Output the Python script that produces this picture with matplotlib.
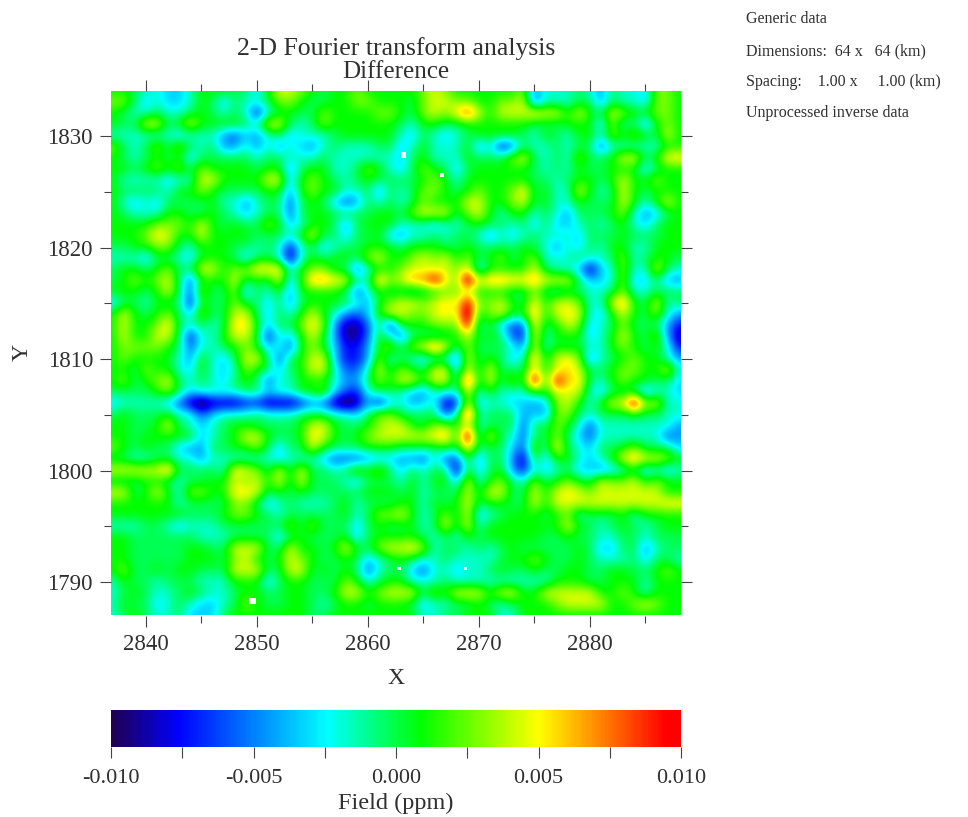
import matplotlib
matplotlib.use('Agg')
import matplotlib.pyplot as plt
import numpy as np
from matplotlib.colors import LinearSegmentedColormap

# Field values, one hex code per grid node
# codes index into level_ppm. rows run from y=1834 down to y=1787, columns x=2837..2888
# node levels overshoot a bit because bicubic resampling flattens the peaks
level_ppm = [-0.0120, -0.0092, -0.0075, -0.0058, -0.0044, -0.0033, -0.0017, -0.0002,
             0.0009, 0.0028, 0.0044, 0.0056, 0.0070, 0.0088, 0.0105, 0.0125]

x_nodes = list(range(2837, 2889))
y_nodes = list(range(1834, 1786, -1))

field_rows = [
    "8 8 7 6 6 5 5 6 8 8 8 7 7 5 8 a a 9 8 7 8 8 9 8 8 8  8 8 9 a 9 8 8 8 8 8 8 9 4 6 6 6 7 6 4 7 6 6 5 9 9 8",
    "9 9 7 5 6 5 5 6 8 7 5 7 6 6 7 9 9 8 7 7 8 8 9 9 8 8  8 7 9 a a 9 9 8 8 9 9 a 3 6 6 6 7 7 4 7 6 6 5 9 9 8",
    "8 7 6 6 7 6 6 7 8 7 6 7 6 2 6 7 8 7 7 9 8 8 8 8 9 9  8 7 9 a 9 b d a 8 a a a b a a 8 a 8 7 a 9 8 8 9 9 8",
    "8 7 7 a a 7 8 a 8 8 8 8 7 6 a a 7 6 7 9 8 8 8 8 8 8  7 6 8 8 7 7 8 8 8 8 8 8 7 7 7 8 8 8 5 9 6 7 4 8 9 8",
    "6 6 6 6 6 6 5 6 6 6 4 3 5 4 6 7 5 6 6 6 7 8 8 8 8 8  6 5 7 6 5 6 7 8 8 8 8 7 6 8 7 6 8 8 6 9 8 9 8 7 a 8",
    "9 7 6 7 9 7 9 7 6 7 4 4 6 4 6 4 6 5 4 6 7 6 6 6 7 7  5 6 8 6 6 6 8 4 6 2 3 7 6 6 7 6 7 7 3 6 6 6 6 6 8 8",
    "8 7 6 7 8 7 8 5 7 7 7 7 7 6 7 7 6 6 6 7 6 6 6 6 6 6  5 7 8 6 6 6 8 7 7 7 9 a 7 6 7 6 9 7 7 8 a a 7 8 b b",
    "8 8 7 8 9 8 9 7 9 8 8 8 8 7 8 8 4 7 8 8 6 6 7 9 8 6  5 7 9 8 7 5 7 8 8 8 8 8 7 6 7 6 8 7 7 8 8 8 5 7 8 8",
    "8 6 6 6 6 5 6 6 a a 8 8 8 8 a a 5 8 9 8 7 6 7 8 7 7  7 7 8 9 8 6 8 8 8 8 8 8 7 7 6 7 8 8 7 8 a 8 8 9 8 8",
    "8 7 7 7 7 6 8 8 9 8 7 7 7 7 8 8 4 8 9 8 8 6 6 7 4 7  6 7 9 9 8 7 8 9 8 8 9 b 7 8 6 6 a 8 6 7 a 8 7 8 8 8",
    "8 6 5 6 5 7 7 7 7 8 6 6 4 6 7 7 3 7 8 7 5 3 4 7 6 7  6 7 9 8 8 8 a a 8 8 9 a 7 8 6 6 8 7 7 7 a 8 6 8 a 8",
    "8 7 6 6 6 8 8 7 7 8 7 6 5 6 7 7 3 7 8 8 7 7 7 7 8 8  7 9 a a a 7 9 a 8 6 8 8 6 7 6 4 7 7 7 8 9 6 4 5 7 8",
    "8 8 8 8 9 9 9 8 a 8 7 8 7 7 9 8 5 6 8 8 7 4 7 8 8 8  6 6 6 5 6 6 7 8 7 7 6 7 5 7 5 5 6 7 6 7 8 6 5 7 8 8",
    "8 8 8 9 b a 8 8 a 8 8 8 8 7 7 7 6 8 a 7 7 5 7 7 8 5  4 6 6 7 6 7 7 6 4 6 5 6 7 6 6 6 5 7 7 7 8 7 7 7 8 8",
    "7 7 8 8 9 9 7 6 8 8 8 7 7 6 7 6 2 6 7 5 6 7 7 8 8 8  7 8 8 8 7 7 8 7 7 7 7 8 7 6 4 6 5 7 6 8 8 6 6 8 8 8",
    "6 6 6 5 7 7 6 5 8 8 8 7 5 7 7 6 1 6 8 7 8 8 7 9 a 8  8 9 a 9 a 8 9 7 8 9 7 8 9 6 6 6 7 6 6 7 9 6 7 8 8 7",
    "7 8 8 7 8 9 7 7 a a 8 9 9 b b b 6 8 9 9 7 7 3 6 8 8  9 a a a a 9 b 5 8 8 8 8 a 7 6 6 5 1 5 6 9 6 6 a 7 6",
    "7 8 9 8 9 a 7 3 8 8 8 a 7 8 7 a 5 8 c c b a 7 6 c 9  a c c e b 9 f a c c b b c a a a 7 5 5 6 9 5 5 7 4 4",
    "8 8 8 7 8 a 7 3 9 7 7 9 5 7 6 8 4 8 8 8 8 7 3 6 8 7  7 6 7 8 9 9 a 8 8 8 7 7 9 7 6 7 7 6 6 7 9 6 6 7 7 7",
    "5 7 7 6 8 7 7 2 8 7 7 9 7 7 5 7 4 7 8 8 8 7 6 4 8 9  a a 9 a b a e 9 9 a 8 7 b 8 a a 9 6 6 a c 8 7 a 6 7",
    "8 a 8 7 8 9 7 5 9 7 7 a a 7 5 7 6 8 a 8 6 4 3 5 8 a  a 9 9 a b a f 8 9 a 8 8 c 8 a b a 6 5 8 a 8 7 9 6 4",
    "8 a 8 8 9 b 7 6 7 6 7 b b 8 5 7 7 9 b 9 4 1 1 3 7 2  8 8 8 9 9 9 e 6 8 5 3 3 b 7 8 a 9 5 6 7 9 7 7 7 4 2",
    "8 a 8 8 a a 7 2 6 6 8 a a 8 2 6 5 8 a 8 4 1 1 3 8 6  3 7 7 6 7 8 a 7 8 7 3 2 b 6 8 8 8 5 6 8 a 8 7 9 4 1",
    "8 9 9 9 9 8 7 3 6 6 7 8 9 8 5 6 3 8 9 8 5 2 2 4 8 9  7 9 a d a 7 9 7 7 7 6 4 a 6 8 7 8 6 6 8 9 8 7 8 6 2",
    "8 9 8 8 8 8 6 4 8 6 5 7 a a 7 3 7 8 a a 5 2 2 4 9 6  7 6 5 6 6 3 a 7 8 7 5 6 c 7 a b 9 4 6 7 8 9 8 8 6 4",
    "8 8 7 9 8 8 6 5 8 6 5 6 9 8 7 5 7 8 a a 6 3 3 6 a 7  9 8 7 a a 5 a 7 a 7 7 7 b 8 a b a 7 7 8 9 9 8 8 a 6",
    "8 9 7 8 9 a 7 6 7 6 5 7 8 7 3 6 6 8 8 8 6 4 4 7 9 8  a a 8 a a 6 e 7 a 7 9 7 f 8 e b b 7 6 8 9 8 8 7 7 5",
    "7 7 7 7 8 9 7 5 6 6 6 6 7 7 5 6 6 8 8 9 5 3 2 6 7 7  6 5 4 6 6 6 a 6 8 6 6 6 8 8 a a a 6 5 7 7 7 4 6 6 5",
    "5 6 6 6 6 5 3 1 0 1 1 1 2 2 1 1 1 2 4 3 1 0 1 4 2 5  6 4 5 6 1 2 a 5 6 6 5 5 4 5 9 a 8 6 8 a a f 9 a 6 6",
    "7 8 7 7 7 8 6 6 3 5 6 6 6 7 6 6 6 7 7 7 6 6 5 7 9 9  7 7 7 7 3 6 e 6 7 7 7 4 5 4 9 9 7 6 7 7 7 8 7 7 6 6",
    "8 8 7 7 8 a 7 6 5 6 7 8 8 7 7 7 7 8 a a 8 7 7 8 9 a  a 8 7 9 9 8 a 6 7 7 7 3 7 7 9 8 6 3 6 6 6 6 6 6 6 4",
    "8 8 7 8 8 8 8 8 5 6 7 8 a a 8 7 7 8 b a 8 7 8 9 a a  a a a b c 8 f 6 a 7 6 3 7 7 9 7 5 3 6 6 6 6 6 6 3 4",
    "9 8 7 8 7 7 5 4 4 7 7 8 8 9 7 5 7 7 a 8 7 7 7 8 8 8  7 7 7 7 8 7 b 7 7 7 5 3 9 6 b 7 6 5 7 7 8 9 7 7 7 5",
    "7 7 6 6 7 7 6 6 4 6 6 6 6 6 6 5 6 6 6 5 3 3 3 4 5 5  4 4 3 6 3 3 8 4 7 7 4 1 8 5 8 8 6 5 6 8 a c a a 9 8",
    "a a a a a c 7 7 7 7 6 b a 9 7 a 7 a 7 7 6 7 9 8 9 7  5 7 6 7 7 1 8 5 7 8 4 2 6 5 6 7 5 5 4 5 6 7 5 6 5 6",
    "7 7 7 8 8 7 6 7 7 8 8 a 9 a 8 a 7 a 7 7 7 6 5 7 7 7  6 8 6 8 8 5 a 6 8 9 7 6 9 7 8 9 8 7 a 9 9 a 8 9 8 8",
    "a a 7 8 a 8 6 9 9 8 8 b b a 7 8 7 8 7 7 7 7 7 8 8 8  7 8 6 7 7 7 a 7 a a 7 7 a 8 a b a 9 a a a a a a 8 8",
    "8 8 8 8 8 8 6 7 7 7 7 9 9 7 5 6 7 6 6 6 7 8 6 7 7 7  8 8 6 8 7 8 a 7 8 8 7 7 a 8 a a a a a a a a a a b b",
    "8 8 8 8 8 8 8 7 7 7 8 9 9 8 7 6 7 7 7 7 7 8 6 7 9 9  a 8 6 7 9 7 a 5 6 7 8 8 8 7 8 9 6 7 7 7 8 6 8 8 8 8",
    "6 6 6 7 7 6 5 6 6 6 7 7 7 7 7 7 9 7 9 7 7 7 5 7 8 7  7 8 6 7 a 7 a 6 8 8 8 8 8 8 8 a 8 7 6 7 8 7 6 7 8 8",
    "8 8 7 7 7 7 7 7 6 6 6 7 7 7 7 5 7 8 7 7 7 8 5 7 8 8  8 8 7 6 7 6 8 7 8 8 8 8 8 7 7 8 7 7 6 6 7 7 6 7 7 7",
    "8 8 7 7 7 7 7 8 8 7 7 a a a 7 7 a 8 8 7 8 a 8 7 9 a  a b 9 6 7 7 6 7 6 7 8 7 7 7 7 7 8 7 5 5 7 7 4 6 7 7",
    "8 8 7 7 7 7 7 8 8 8 7 9 a 8 7 8 a 9 8 7 7 8 7 5 6 7  8 7 6 6 7 6 6 6 6 7 8 8 9 8 7 7 8 7 6 6 6 7 5 7 7 6",
    "8 9 7 7 8 7 8 8 7 7 7 a a a 7 7 a a 7 8 7 8 7 3 6 7  7 5 3 6 6 5 6 6 7 8 7 7 8 7 7 8 8 7 7 8 8 7 7 8 9 8",
    "6 8 7 7 6 7 7 7 6 6 6 8 8 8 5 7 8 8 7 7 7 9 8 6 7 8  8 6 6 6 7 6 6 6 6 6 6 6 6 6 8 8 8 7 7 8 8 8 6 8 8 8",
    "6 7 8 7 6 6 7 8 7 6 6 7 8 8 7 7 8 8 7 7 8 a a 8 9 a  a a 7 9 8 a a a 8 a a 8 8 a a a a a 8 8 9 8 6 8 8 8",
    "6 8 7 7 5 6 7 6 5 5 6 7 9 8 7 7 8 8 7 6 7 8 8 7 8 8  8 7 5 6 6 7 7 8 7 6 7 8 8 8 9 a a a a 8 8 9 a 9 8 8",
    "6 7 8 7 6 6 7 5 5 5 7 8 8 8 8 8 8 8 7 7 8 8 8 8 8 8  8 8 6 6 7 7 8 8 8 6 6 8 8 8 8 8 8 8 8 8 8 8 8 8 8 8",
]

# white holes in the map
gap_x = [2849.6, 2863.2, 2866.7, 2862.8, 2868.8]
gap_y = [1788.3, 1828.3, 1826.5, 1791.2, 1791.2]

x_major = [2840, 2850, 2860, 2870, 2880]
y_major = [1790, 1800, 1810, 1820, 1830]
cbar_ticks = [-0.010, -0.0075, -0.005, -0.0025, 0.0, 0.0025, 0.005, 0.0075, 0.010]
cbar_labels = ['-0.010', '', '-0.005', '', '0.000', '', '0.005', '', '0.010']

info_lines = ['Generic data',
              'Dimensions:  64 x   64 (km)',
              'Spacing:    1.00 x     1.00 (km)',
              'Unprocessed inverse data']

field = np.array([[level_ppm[int(c, 16)] for c in r.split()] for r in field_rows])

plt.rcParams['font.family'] = ['Liberation Serif', 'DejaVu Serif']
text_color = '#303030'

W, H = 968, 817
fig = plt.figure(figsize=(W / 100, H / 100), dpi=100)


def px_axes(left, top, right, bottom):
    return fig.add_axes([left / W, 1 - bottom / H, (right - left) / W, (bottom - top) / H])


cmap = LinearSegmentedColormap.from_list('field', [
    (0.0, '#200050'), (0.117, '#0000ff'), (0.379, '#00ffff'), (0.544, '#00ff00'),
    (0.752, '#ffff00'), (0.975, '#ff0000'), (1.0, '#ff0000')])

ax = px_axes(111, 91, 681, 615.5)
im = ax.imshow(field, extent=(x_nodes[0] - 0.5, x_nodes[-1] + 0.5, y_nodes[-1] - 0.5, y_nodes[0] + 0.5),
               cmap=cmap, vmin=-0.01, vmax=0.01, interpolation='bicubic', aspect='auto')
ax.scatter(gap_x, gap_y, s=[22, 18, 8, 5, 5], c='white', marker='s', linewidths=0)
ax.set_xlim(2836.85, 2888.2)
ax.set_ylim(1787.0, 1834.05)

ax.set_xticks(x_major)
ax.set_yticks(y_major)
ax.set_xticks(np.arange(2845, 2888, 10), minor=True)
ax.set_yticks(np.arange(1795, 1834, 10), minor=True)
ax.tick_params(which='major', length=8, width=0.8, color='#444444', labelsize=16.5,
               labelcolor=text_color, top=True, right=True, pad=5)
ax.tick_params(which='minor', length=5, width=0.8, color='#444444', top=True, right=True)
for s in ax.spines.values():
    s.set_visible(False)

fig.text(396 / W, 1 - 48.5 / H, '2-D Fourier transform analysis', ha='center', va='center',
         fontsize=18.5, color=text_color)
fig.text(396 / W, 1 - 71.5 / H, 'Difference', ha='center', va='center', fontsize=18, color=text_color)
fig.text(396 / W, 1 - 678.5 / H, 'X', ha='center', va='center', fontsize=17, color=text_color)
fig.text(22 / W, 1 - 352 / H, 'Y', ha='center', va='center', rotation=90, fontsize=17, color=text_color)

cax = px_axes(111, 710, 681, 746.5)
cb = fig.colorbar(im, cax=cax, orientation='horizontal')
cb.outline.set_visible(False)
cb.set_ticks(cbar_ticks, labels=cbar_labels)
cb.ax.tick_params(length=8, width=0.8, color='#444444', labelsize=16, labelcolor=text_color, pad=8)
fig.text(396 / W, 1 - 803 / H, 'Field (ppm)', ha='center', va='center', fontsize=17.5, color=text_color)

for y, line in zip([19, 51, 82, 113], info_lines):
    fig.text(746 / W, 1 - y / H, line, ha='left', va='center', fontsize=11.5, color=text_color)

fig.savefig('out.png', dpi=100)
